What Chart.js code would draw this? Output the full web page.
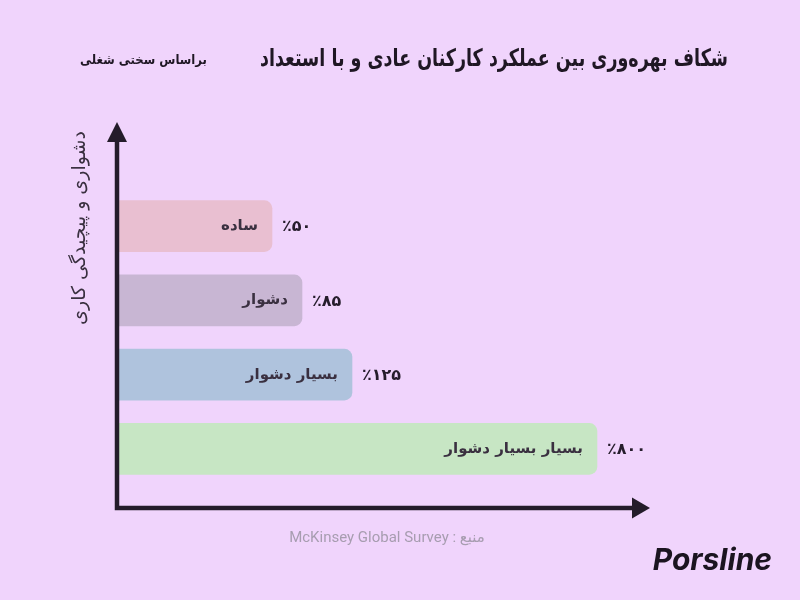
<!DOCTYPE html>
<html lang="fa">
<head>
<meta charset="utf-8">
<title>شکاف بهره‌وری</title>
<script src="https://cdn.jsdelivr.net/npm/chart.js@4"></script>
<style>
  html, body { margin: 0; padding: 0; background: #f0d4fc; }
  #wrap { width: 800px; height: 600px; }
</style>
</head>
<body>
<div id="wrap"><canvas id="gap" width="800" height="600"></canvas></div>
<script>
// داده‌ها
const categories = ["ساده", "دشوار", "بسیار دشوار", "بسیار بسیار دشوار"];
const percentValues = [50, 85, 125, 800];
// طول میله‌ها در تصویر متناسب با درصدها نیست، از روی تصویر خوانده شده (از ۱۰۰)
const barLength = [31, 37, 47, 96];
const barColors = ["#e9bfd1", "#c8b6d3", "#afc3dd", "#c7e6c4"];

const titleText = "شکاف بهره‌وری بین عملکرد کارکنان عادی و با استعداد";
const subtitleText = "براساس سختی شغلی";
const yTitleText = "دشواری و پیچیدگی کاری";
const sourceText = "منبع : McKinsey Global Survey";

const FA = "'DejaVu Sans', 'Noto Sans', sans-serif";
const AXIS = "#241c2a";

// تبدیل ارقام به فارسی
function faDigits(n) {
  return String(n).replace(/\d/g, (d) => "۰۱۲۳۴۵۶۷۸۹"[d]);
}

// متن راست‌چین با عرض مشخص (فشرده‌سازی افقی)
function drawFitted(ctx, text, font, right, y, width) {
  ctx.font = font;
  const w = ctx.measureText(text).width;
  const sx = Math.min(1, width / w);
  ctx.save();
  ctx.translate(right, y);
  ctx.scale(sx, 1);
  ctx.fillText(text, 0, 0);
  ctx.restore();
}

// اندازه قلم برای عرض مشخص
function fitSize(ctx, text, weight, size, width) {
  ctx.font = `${weight} ${size}px ${FA}`;
  return size * width / ctx.measureText(text).width;
}

const decorPlugin = {
  id: "decor",
  afterDatasetsDraw(chart) {
    const { ctx, chartArea } = chart;
    const meta = chart.getDatasetMeta(0);
    ctx.save();

    // برچسب‌ها داخل و کنار میله‌ها
    meta.data.forEach((bar, i) => {
      ctx.direction = "rtl";
      ctx.textBaseline = "middle";
      ctx.fillStyle = "#3a3040";
      ctx.font = `600 15px ${FA}`;
      ctx.textAlign = "right";
      ctx.fillText(categories[i], bar.x - 14, bar.y);

      ctx.fillStyle = "#261d2c";
      ctx.font = `bold 16px ${FA}`;
      ctx.textAlign = "left";
      ctx.fillText("٪" + faDigits(percentValues[i]), bar.x + 10, bar.y + 1);
    });

    // محورها با فلش
    const x0 = chartArea.left;
    const y0 = chartArea.bottom + 22;
    ctx.strokeStyle = AXIS;
    ctx.fillStyle = AXIS;
    ctx.lineWidth = 4.5;
    ctx.beginPath();
    ctx.moveTo(x0, chartArea.top - 48);
    ctx.lineTo(x0, y0);
    ctx.lineTo(chartArea.right + 17, y0);
    ctx.stroke();

    ctx.beginPath();
    ctx.moveTo(x0, chartArea.top - 67);
    ctx.lineTo(x0 - 10, chartArea.top - 47);
    ctx.lineTo(x0 + 10, chartArea.top - 47);
    ctx.closePath();
    ctx.fill();

    ctx.beginPath();
    ctx.moveTo(chartArea.right + 33, y0);
    ctx.lineTo(chartArea.right + 15, y0 - 10.5);
    ctx.lineTo(chartArea.right + 15, y0 + 10.5);
    ctx.closePath();
    ctx.fill();

    // عنوان محور عمودی
    ctx.save();
    ctx.translate(80, 131);
    ctx.rotate(-Math.PI / 2);
    ctx.direction = "rtl";
    ctx.textAlign = "right";
    ctx.textBaseline = "middle";
    ctx.fillStyle = "#3a3040";
    const ys = fitSize(ctx, yTitleText, "normal", 17, 194);
    ctx.font = `normal ${ys}px ${FA}`;
    ctx.fillText(yTitleText, 0, 0);
    ctx.restore();

    // عنوان و زیرعنوان
    ctx.direction = "rtl";
    ctx.textAlign = "right";
    ctx.textBaseline = "middle";
    ctx.fillStyle = "#1f1724";
    drawFitted(ctx, titleText, `bold 24px ${FA}`, 728, 60, 468);
    drawFitted(ctx, subtitleText, `bold 13px ${FA}`, 207, 61, 127);

    // منبع
    ctx.textAlign = "center";
    ctx.fillStyle = "#a79db0";
    ctx.font = `15px Roboto, ${FA}`;
    ctx.fillText(sourceText, 387, 538);

    // لوگو
    ctx.direction = "ltr";
    ctx.textAlign = "right";
    ctx.fillStyle = "#1b1420";
    ctx.font = "italic bold 30px Inter, 'DejaVu Sans', sans-serif";
    ctx.fillText("Porsline", 772, 561);

    ctx.restore();
  },
};

const ctx = document.getElementById("gap").getContext("2d");
new Chart(ctx, {
  type: "bar",
  data: {
    labels: categories,
    datasets: [
      {
        data: barLength,
        backgroundColor: barColors,
        borderWidth: 0,
        borderRadius: 8,
        borderSkipped: "start",
        barThickness: 51,
      },
    ],
  },
  options: {
    indexAxis: "y",
    responsive: false,
    animation: false,
    layout: {
      padding: { left: 117, right: 183, top: 189, bottom: 114 },
    },
    scales: {
      x: { display: false, min: 0, max: 100 },
      y: { display: false },
    },
    plugins: {
      legend: { display: false },
      tooltip: { enabled: false },
    },
  },
  plugins: [decorPlugin],
});
</script>
</body>
</html>
